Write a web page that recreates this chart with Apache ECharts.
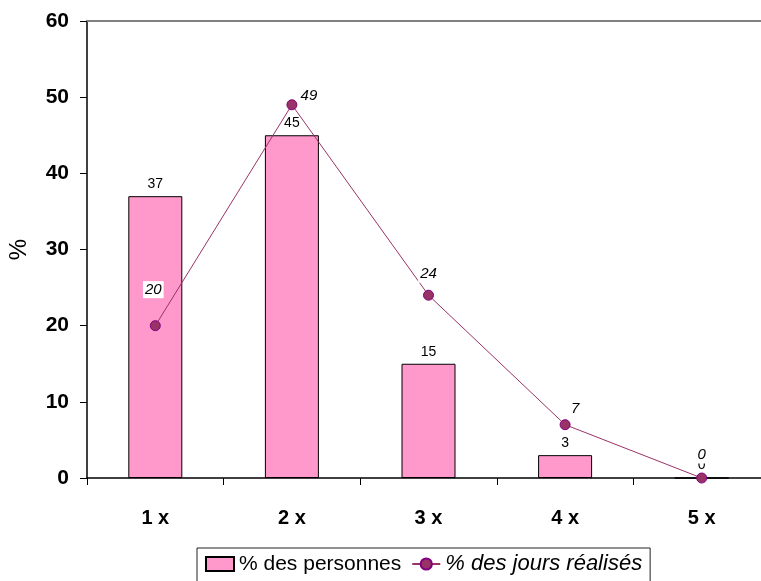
<!DOCTYPE html>
<html>
<head>
<meta charset="utf-8">
<script src="https://cdn.jsdelivr.net/npm/echarts@6/dist/echarts.min.js"></script>
<style>
  html, body { margin: 0; padding: 0; background: #fff; }
  #chart { width: 761px; height: 581px; }
</style>
</head>
<body>
<div id="chart"></div>
<script>
// Number of times, share of people and share of days carried out
const categories = ['1 x', '2 x', '3 x', '4 x', '5 x'];
const personnes = [37, 45, 15, 3, 0];
const joursRealises = [20, 49, 24, 7, 0];
const yTicks = { min: 0, max: 60, interval: 10 };

// Label placement for the line points (pixel offsets from each point)
const lineLabelOffsets = [[-2, -36], [17, -9], [0, -21], [10, -16], [0, -23]];

const FONT = 'Liberation Sans, Arial, sans-serif';

const lineData = joursRealises.map((v, i) => ({
  value: v,
  label: { offset: lineLabelOffsets[i] }
}));

const chart = echarts.init(document.getElementById('chart'), null, { renderer: 'canvas' });
chart.setOption({
  animation: false,
  backgroundColor: '#ffffff',
  textStyle: { fontFamily: FONT },
  grid: {
    left: 87, top: 21, width: 683, height: 457,
    containLabel: false,
    outerBoundsMode: 'none'
  },
  legend: {
    left: 197,
    top: 548,
    padding: [5, 8, 14, 8],
    itemGap: 10,
    itemWidth: 28,
    itemHeight: 14,
    borderColor: '#222',
    borderWidth: 1,
    textStyle: { fontFamily: FONT, fontSize: 21, color: '#000' },
    data: [
      { name: '% des personnes', icon: 'rect' },
      { name: '% des jours réalisés', textStyle: { fontStyle: 'italic', fontSize: 22 } }
    ]
  },
  xAxis: [
    {
      type: 'category',
      data: categories,
      position: 'bottom',
      axisLine: { lineStyle: { color: '#000', width: 1.5 } },
      axisTick: { show: true, alignWithLabel: false, length: 7, lineStyle: { color: '#000' } },
      axisLabel: { margin: 30, fontFamily: FONT, fontSize: 20, fontWeight: 'bold', color: '#000' },
      splitLine: { show: false }
    },
    {
      type: 'category',
      data: categories,
      position: 'top',
      axisLine: { lineStyle: { color: '#808080', width: 2 } },
      axisTick: { show: false },
      axisLabel: { show: false },
      splitLine: { show: false }
    }
  ],
  yAxis: {
    type: 'value',
    min: yTicks.min,
    max: yTicks.max,
    interval: yTicks.interval,
    name: '%',
    nameLocation: 'middle',
    nameGap: 56,
    nameRotate: 90,
    nameTextStyle: { fontFamily: FONT, fontSize: 24, color: '#000' },
    axisLine: { show: true, lineStyle: { color: '#000', width: 1.5 } },
    axisTick: { show: true, length: 7, lineStyle: { color: '#000' } },
    axisLabel: { margin: 18, fontFamily: FONT, fontSize: 21, fontWeight: 'bold', color: '#000' },
    splitLine: { show: false }
  },
  series: [
    {
      name: '% des personnes',
      type: 'bar',
      data: personnes,
      barWidth: 54,
      itemStyle: { color: '#FF99CC', borderColor: '#000', borderWidth: 1 },
      label: {
        show: true,
        position: 'top',
        distance: 5,
        fontFamily: FONT,
        fontSize: 14,
        color: '#000'
      },
      z: 2
    },
    {
      name: '% des jours réalisés',
      type: 'line',
      data: lineData,
      symbol: 'circle',
      symbolSize: 10,
      lineStyle: { color: '#993366', width: 1 },
      itemStyle: { color: '#993366', borderColor: '#800080', borderWidth: 1 },
      label: {
        show: true,
        position: 'inside',
        fontFamily: FONT,
        fontSize: 15,
        fontStyle: 'italic',
        color: '#000',
        backgroundColor: '#fff',
        padding: [1, 2]
      },
      z: 5
    }
  ]
});
</script>
</body>
</html>
